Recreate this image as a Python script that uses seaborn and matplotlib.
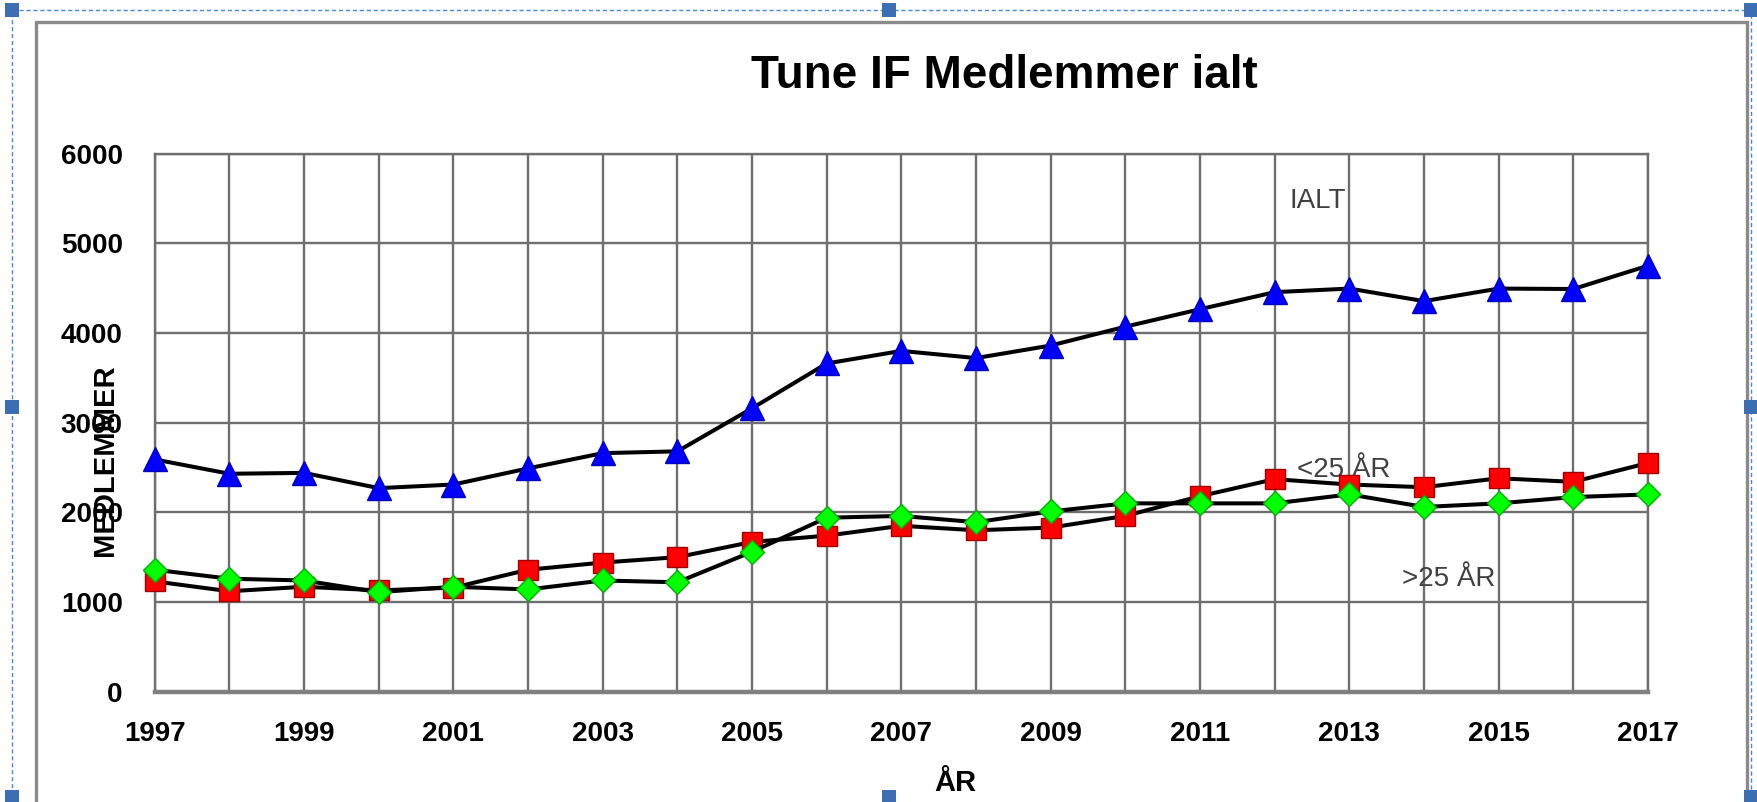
import numpy as np
import pandas as pd
import seaborn as sns
import matplotlib.pyplot as plt
from matplotlib.patches import Rectangle
from matplotlib.ticker import MultipleLocator, FixedLocator

aar = list(range(1997, 2018))
ialt = [2590, 2430, 2440, 2270, 2310, 2490, 2660, 2680, 3160, 3660, 3800,
        3720, 3860, 4070, 4265, 4455, 4495, 4355, 4495, 4490, 4750]
under_25 = [1230, 1120, 1170, 1130, 1160, 1360, 1440, 1500, 1670, 1740, 1850,
            1800, 1830, 1960, 2180, 2370, 2310, 2280, 2380, 2340, 2550]
over_25 = [1360, 1260, 1240, 1110, 1170, 1140, 1240, 1220, 1560, 1940, 1960,
           1890, 2010, 2100, 2100, 2100, 2200, 2060, 2100, 2170, 2200]
aar_labels = list(range(1997, 2018, 2))

df = pd.DataFrame({"ÅR": aar, "IALT": ialt, "<25 ÅR": under_25, ">25 ÅR": over_25})

sns.set_style("white")
plt.rcParams['font.family'] = ['Liberation Sans', 'DejaVu Sans']
plt.rcParams['text.color'] = 'black'
plt.rcParams['xtick.color'] = 'black'
plt.rcParams['ytick.color'] = 'black'
plt.rcParams['axes.labelcolor'] = 'black'

W, H = 1758, 802
fig = plt.figure(figsize=(W / 100, H / 100), dpi=100)
ax = fig.add_axes([154.7 / W, 1 - 691.7 / H, (1648 - 154.7) / W, (691.7 - 153.6) / H])

# serier
sns.lineplot(data=df, x="ÅR", y="IALT", ax=ax, color='black', lw=2.9,
             marker='^', markersize=17, markerfacecolor='#0000FF',
             mec='#0000C0', mew=1, zorder=5, clip_on=False)
sns.lineplot(data=df, x="ÅR", y="<25 ÅR", ax=ax, color='black', lw=2.9,
             marker='s', markersize=15, markerfacecolor='#FF0000',
             mec='#A00000', mew=1, zorder=5, clip_on=False)
sns.lineplot(data=df, x="ÅR", y=">25 ÅR", ax=ax, color='black', lw=2.9,
             marker='D', markersize=12, markerfacecolor='#00FF00',
             mec='#00B000', mew=1, zorder=6, clip_on=False)

ax.set_xlim(1997, 2017)
ax.set_ylim(0, 6000)
ax.xaxis.set_major_locator(FixedLocator(aar_labels))
ax.xaxis.set_minor_locator(FixedLocator([a for a in aar if a not in aar_labels]))
ax.yaxis.set_major_locator(MultipleLocator(1000))
ax.grid(True, which='both', axis='x', color='#6e6e6e', lw=1.7)
ax.grid(True, which='major', axis='y', color='#6e6e6e', lw=1.7)

for s in ['top', 'right', 'left']:
    ax.spines[s].set_color('#6e6e6e')
    ax.spines[s].set_linewidth(1.7)
ax.spines['bottom'].set_color('#808080')
ax.spines['bottom'].set_linewidth(3.2)

ax.tick_params(axis='both', which='both', direction='out', color='#555555', width=1.3)
ax.tick_params(axis='y', length=9, pad=14, labelsize=20)
ax.tick_params(axis='x', which='major', length=9, pad=12, labelsize=20)
ax.tick_params(axis='x', which='minor', length=9)
for lab in ax.get_xticklabels() + ax.get_yticklabels():
    lab.set_fontweight('bold')

ax.set_xlabel("ÅR", fontsize=21, fontweight='bold')
ax.set_ylabel("MEDLEMMER", fontsize=21, fontweight='bold')
ax.xaxis.set_label_coords(0.536, -0.144)
ax.yaxis.set_label_coords(-0.024, 0.43)

# serienavne
ax.text(2012.2, 5470, "IALT", fontsize=20, color='#404040', va='center', ha='left')
ax.text(2012.3, 2470, "<25 ÅR", fontsize=20, color='#404040', va='center', ha='left')
ax.text(2013.7, 1252, ">25 ÅR", fontsize=20, color='#404040', va='center', ha='left')

fig.text(1004 / W, 1 - 76 / H, "Tune IF Medlemmer ialt", fontsize=33,
         fontweight='bold', ha='center', va='center', color='black')

# diagramramme og markering
fig.patches.append(Rectangle((36 / W, -0.05), (1747 - 36) / W, 1.05 - 22 / H,
                             transform=fig.transFigure, fill=False,
                             edgecolor='#8a8a8a', lw=2.4))
fig.patches.append(Rectangle((12 / W, -0.05), (1751 - 12) / W, 1.05 - 10 / H,
                             transform=fig.transFigure, fill=False,
                             edgecolor='#4a86d8', lw=1, linestyle=(0, (3, 2))))
for hx, hy in [(5, 3), (882, 3), (1744, 3), (5, 400), (1744, 400),
               (5, 790), (882, 790), (1744, 790)]:
    fig.patches.append(Rectangle((hx / W, 1 - (hy + 14) / H), 14 / W, 14 / H,
                                 transform=fig.transFigure, facecolor='#3c6eb4',
                                 edgecolor='none'))

fig.savefig("out.png", dpi=100, facecolor='white')
